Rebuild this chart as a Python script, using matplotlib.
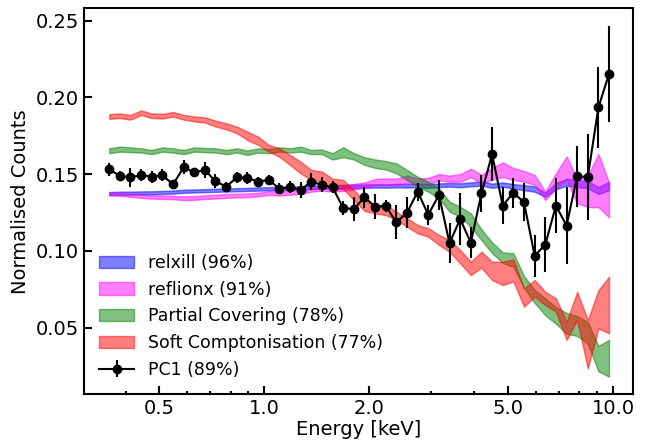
import numpy as np
import matplotlib
matplotlib.use('Agg')
from matplotlib import pyplot as plt
from matplotlib.ticker import FixedLocator, LogLocator, NullFormatter, FormatStrFormatter


# energy grid of the binned spectrum (keV)
energy = [0.359, 0.385, 0.413, 0.443, 0.475, 0.510, 0.547, 0.587, 0.629, 0.675,
          0.724, 0.777, 0.834, 0.894, 0.959, 1.029, 1.104, 1.184, 1.270, 1.362,
          1.462, 1.568, 1.682, 1.804, 1.936, 2.077, 2.227, 2.389, 2.563, 2.750,
          2.950, 3.164, 3.394, 3.641, 3.906, 4.190, 4.495, 4.822, 5.173, 5.549,
          5.953, 6.386, 6.850, 7.349, 7.880, 8.453, 9.068, 9.727]

# PC1 normalised counts and 1 sigma errors
pc1 = [0.1531, 0.1488, 0.1479, 0.1492, 0.1483, 0.1492, 0.1433, 0.1544, 0.1512, 0.1527,
       0.1453, 0.1418, 0.1479, 0.1475, 0.1451, 0.1462, 0.1405, 0.1414, 0.1396, 0.1451,
       0.1429, 0.1414, 0.1279, 0.1272, 0.1349, 0.1287, 0.1292, 0.1186, 0.1248, 0.1385,
       0.1235, 0.1364, 0.1049, 0.1207, 0.1053, 0.1375, 0.1629, 0.1294, 0.1379, 0.1316,
       0.0968, 0.1040, 0.1294, 0.1164, 0.1486, 0.1481, 0.1934, 0.2153]
pc1_err = [0.0043, 0.003, 0.006, 0.004, 0.004, 0.004, 0.003, 0.0046, 0.003, 0.0054,
           0.0046, 0.003, 0.0035, 0.004, 0.0033, 0.0033, 0.0038, 0.0038, 0.0054, 0.0054,
           0.0049, 0.0038, 0.0043, 0.008, 0.007, 0.008, 0.004, 0.011, 0.010, 0.006,
           0.0065, 0.010, 0.013, 0.017, 0.010, 0.012, 0.0177, 0.012, 0.0098, 0.0125,
           0.0138, 0.018, 0.018, 0.025, 0.020, 0.028, 0.0266, 0.0315]

# model bands (lower / upper)
relxill_lo = [0.1363, 0.1365, 0.1366, 0.1367, 0.1368, 0.1370, 0.1373, 0.1378, 0.1380, 0.1382,
              0.1384, 0.1386, 0.1388, 0.1390, 0.1392, 0.1395, 0.1397, 0.1398, 0.1400, 0.1402,
              0.1404, 0.1406, 0.1408, 0.1410, 0.1410, 0.1412, 0.1411, 0.1413, 0.1412, 0.1414,
              0.1410, 0.1415, 0.1418, 0.1414, 0.1420, 0.1425, 0.1410, 0.1418, 0.1405, 0.1395,
              0.1385, 0.1352, 0.1400, 0.1425, 0.1415, 0.1408, 0.1370, 0.1395]
relxill_hi = [0.1383, 0.1385, 0.1386, 0.1387, 0.1388, 0.1390, 0.1393, 0.1398, 0.1400, 0.1402,
              0.1404, 0.1406, 0.1408, 0.1410, 0.1413, 0.1415, 0.1417, 0.1419, 0.1421, 0.1423,
              0.1425, 0.1427, 0.1430, 0.1432, 0.1432, 0.1434, 0.1433, 0.1436, 0.1435, 0.1437,
              0.1434, 0.1439, 0.1442, 0.1440, 0.1446, 0.1452, 0.1438, 0.1446, 0.1435, 0.1428,
              0.1420, 0.1378, 0.1440, 0.1470, 0.1460, 0.1455, 0.1415, 0.1450]

reflionx_lo = [0.1362, 0.1358, 0.1352, 0.1345, 0.1340, 0.1338, 0.1336, 0.1330, 0.1332, 0.1338,
               0.1340, 0.1345, 0.1348, 0.1350, 0.1355, 0.1364, 0.1360, 0.1365, 0.1372, 0.1385,
               0.1392, 0.1385, 0.1390, 0.1400, 0.1410, 0.1428, 0.1430, 0.1428, 0.1440, 0.1430,
               0.1432, 0.1460, 0.1450, 0.1450, 0.1480, 0.1435, 0.1465, 0.1480, 0.1462, 0.1450,
               0.1430, 0.1331, 0.1407, 0.1460, 0.1310, 0.1285, 0.1284, 0.1218]
reflionx_hi = [0.1378, 0.1376, 0.1372, 0.1366, 0.1362, 0.1360, 0.1358, 0.1355, 0.1356, 0.1362,
               0.1365, 0.1370, 0.1372, 0.1374, 0.1378, 0.1390, 0.1386, 0.1392, 0.1398, 0.1412,
               0.1418, 0.1420, 0.1425, 0.1436, 0.1445, 0.1468, 0.1472, 0.1470, 0.1490, 0.1472,
               0.1475, 0.1500, 0.1490, 0.1500, 0.1535, 0.1495, 0.1540, 0.1577, 0.1540, 0.1520,
               0.1494, 0.1385, 0.1505, 0.1615, 0.1470, 0.1490, 0.1631, 0.1444]

partial_lo = [0.1636, 0.1646, 0.1643, 0.1640, 0.1630, 0.1646, 0.1640, 0.1630, 0.1646, 0.1643,
              0.1640, 0.1630, 0.1640, 0.1625, 0.1640, 0.1636, 0.1646, 0.1640, 0.1646, 0.1630,
              0.1630, 0.1595, 0.1610, 0.1595, 0.1560, 0.1540, 0.1530, 0.1505, 0.1462, 0.1418,
              0.1385, 0.1342, 0.1255, 0.1222, 0.1157, 0.1070, 0.0985, 0.0920, 0.0896, 0.0760,
              0.0660, 0.0580, 0.0525, 0.0460, 0.0445, 0.0395, 0.0215, 0.0180]
partial_hi = [0.1668, 0.1679, 0.1674, 0.1668, 0.1657, 0.1674, 0.1668, 0.1657, 0.1674, 0.1670,
              0.1668, 0.1657, 0.1668, 0.1653, 0.1668, 0.1663, 0.1674, 0.1668, 0.1679, 0.1657,
              0.1660, 0.1636, 0.1675, 0.1636, 0.1610, 0.1595, 0.1585, 0.1570, 0.1527, 0.1483,
              0.1450, 0.1407, 0.1320, 0.1287, 0.1244, 0.1140, 0.1055, 0.0990, 0.0984, 0.0835,
              0.0745, 0.0690, 0.0635, 0.0595, 0.0575, 0.0535, 0.0380, 0.0420]

compt_lo = [0.1860, 0.1865, 0.1855, 0.1885, 0.1865, 0.1862, 0.1875, 0.1855, 0.1843, 0.1836,
            0.1810, 0.1792, 0.1766, 0.1722, 0.1690, 0.1646, 0.1613, 0.1560, 0.1505, 0.1462,
            0.1450, 0.1400, 0.1405, 0.1330, 0.1260, 0.1244, 0.1233, 0.1201, 0.1157, 0.1114,
            0.1092, 0.1038, 0.0994, 0.0918, 0.0842, 0.0890, 0.0810, 0.0777, 0.0800, 0.0636,
            0.0701, 0.0647, 0.0603, 0.0419, 0.0549, 0.0234, 0.0495, 0.0462]
compt_hi = [0.1890, 0.1895, 0.1885, 0.1915, 0.1895, 0.1892, 0.1905, 0.1885, 0.1875, 0.1870,
            0.1848, 0.1831, 0.1809, 0.1776, 0.1744, 0.1690, 0.1668, 0.1625, 0.1581, 0.1527,
            0.1516, 0.1470, 0.1462, 0.1396, 0.1325, 0.1299, 0.1299, 0.1255, 0.1212, 0.1168,
            0.1147, 0.1103, 0.1070, 0.1005, 0.0929, 0.0994, 0.0929, 0.0929, 0.0944, 0.0755,
            0.0810, 0.0733, 0.0690, 0.0538, 0.0733, 0.0549, 0.0744, 0.0831]

major_ticks = [0.5, 1.0, 2.0, 5.0, 10.0]

fig = plt.figure(figsize=(6.46, 4.41), dpi=100)
ax = fig.add_axes([0.1293, 0.1059, 0.8507, 0.8752])

ax.fill_between(energy, relxill_lo, relxill_hi, color='blue', alpha=0.5, label='relxill (96%)')
ax.fill_between(energy, reflionx_lo, reflionx_hi, color='magenta', alpha=0.5, label='reflionx (91%)')
ax.fill_between(energy, partial_lo, partial_hi, color='green', alpha=0.5, label='Partial Covering (78%)')
ax.fill_between(energy, compt_lo, compt_hi, color='red', alpha=0.5, label='Soft Comptonisation (77%)')
ax.errorbar(energy, pc1, yerr=pc1_err, fmt='o-', color='k', ms=6, lw=1.5,
            elinewidth=1.5, label='PC1 (89%)')

ax.set_xscale('log')
ax.set_xlim(0.303, 11.4)
ax.set_ylim(0.0065, 0.258)

ax.xaxis.set_major_locator(FixedLocator(major_ticks))
ax.xaxis.set_major_formatter(FormatStrFormatter('%.1f'))
ax.xaxis.set_minor_locator(LogLocator(base=10, subs=np.arange(2, 10)))
ax.xaxis.set_minor_formatter(NullFormatter())
ax.set_yticks([0.05, 0.10, 0.15, 0.20, 0.25])
ax.yaxis.set_major_formatter(FormatStrFormatter('%.2f'))

ax.tick_params(which='both', direction='in', width=1.5, labelsize=14)
ax.tick_params(which='major', length=5.5)
ax.tick_params(which='minor', length=2.5)
for s in ax.spines.values():
    s.set_linewidth(1.5)

ax.set_xlabel('Energy [keV]', fontsize=14, labelpad=1.5)
ax.set_ylabel('Normalised Counts', fontsize=14)
ax.legend(loc='lower left', frameon=False, fontsize=12.5)

plt.savefig('out.png', dpi=100)
